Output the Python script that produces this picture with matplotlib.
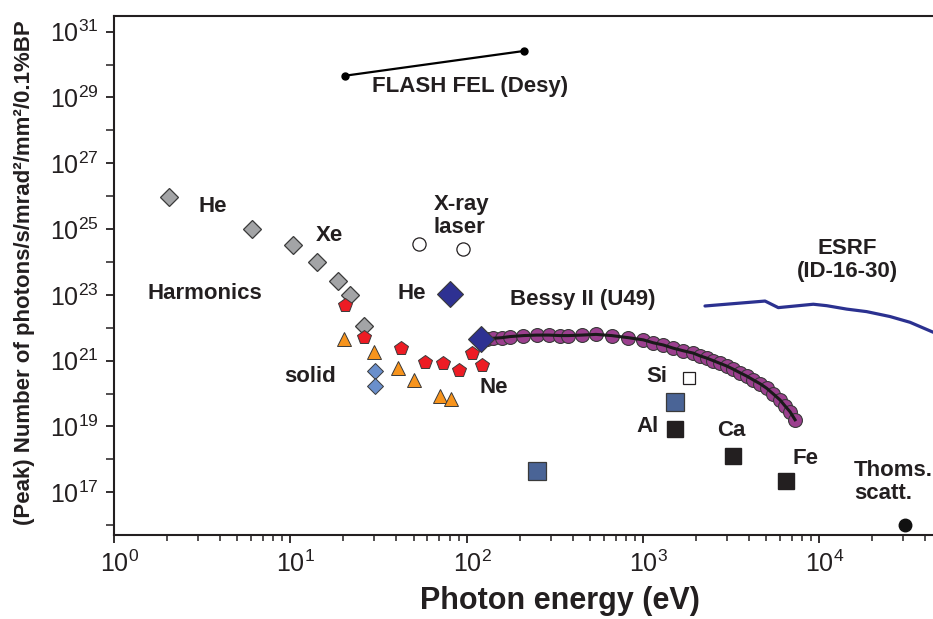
import numpy as np
import matplotlib

matplotlib.use("Agg")
import matplotlib.pyplot as plt
from matplotlib.ticker import FixedLocator, LogLocator, NullFormatter
from matplotlib.transforms import ScaledTranslation

plt.rcParams["font.family"] = ["Liberation Sans", "DejaVu Sans"]
plt.rcParams["mathtext.fontset"] = "custom"
plt.rcParams["mathtext.rm"] = "Liberation Sans"
plt.rcParams["mathtext.it"] = "Liberation Sans:italic"
plt.rcParams["mathtext.bf"] = "Liberation Sans:bold"

# photon energy (eV) / peak brightness (photons/s/mrad^2/mm^2/0.1%BW)
flash_energy = [20.5, 212]
flash_brightness = [4.6e29, 2.6e30]

harmonics_energy = [2.05, 6.1, 10.3, 14.1, 18.6, 21.9, 26.3]
harmonics_brightness = [9.7e25, 1.0e25, 3.4e24, 9.8e23, 2.6e23, 9.7e22, 1.1e22]

neon_energy = [20.4, 26.3, 42.3, 57.8, 73.8, 90.2, 107.8, 122.7]
neon_brightness = [4.9e22, 5.1e21, 2.5e21, 8.9e20, 8.3e20, 5.2e20, 1.75e21, 7.2e20]

solid_energy = [20.2, 29.8, 41.0, 50.1, 70.4, 81.6]
solid_brightness = [4.5e21, 1.8e21, 5.9e20, 2.6e20, 8.5e19, 6.7e19]

solid_diamond_energy = [30.3, 30.3]
solid_diamond_brightness = [4.9e20, 1.74e20]

xray_laser_energy = [53.7, 95.8]
xray_laser_brightness = [3.5e24, 2.5e24]

seeded_energy = [80.5, 120.2]
seeded_brightness = [1.06e23, 4.7e21]

bessy_energy = [120, 130, 142, 158, 176, 210, 250, 293, 339, 378, 450, 542, 665,
                827, 1005, 1146, 1306, 1487, 1695, 1932, 2109, 2301, 2508, 2737,
                2987, 3259, 3556, 3880, 4230, 4616, 5037, 5495, 5996, 6402, 6836, 7296]
bessy_brightness = [4.6e21, 4.7e21, 4.8e21, 5.0e21, 5.4e21, 5.8e21, 6.0e21, 6.0e21,
                    5.8e21, 5.8e21, 6.0e21, 6.3e21, 5.8e21, 5.0e21, 4.3e21, 3.5e21,
                    3.0e21, 2.4e21, 2.0e21, 1.7e21, 1.4e21, 1.2e21, 1.0e21, 8.3e20,
                    6.9e20, 5.5e20, 4.3e20, 3.4e20, 2.6e20, 2.0e20, 1.45e20, 9.7e19,
                    6.4e19, 4.2e19, 2.8e19, 1.6e19]

esrf_energy = [2250, 4930, 5860, 9260, 11030, 14320, 18590, 25200, 32740, 44400]
esrf_brightness = [4.6e22, 6.5e22, 4.1e22, 5.2e22, 4.7e22, 3.7e22, 3.1e22, 2.2e22,
                   1.47e22, 7.3e21]

plasma_energy = [250.7, 1520]
plasma_brightness = [4.5e17, 5.4e19]

kalpha_energy = [1515, 3260, 6480]
kalpha_brightness = [8.2e18, 1.26e18, 2.25e17]

si_energy = [1825]
si_brightness = [3.0e20]

thomson_energy = [30500]
thomson_brightness = [1.0e16]

x_tick_exponents = [0, 1, 2, 3, 4]
y_tick_exponents = [17, 19, 21, 23, 25, 27, 29, 31]

TEXT = "#231f20"
EDGE = "#3a3a3a"

fig = plt.figure(figsize=(9.33, 6.19), dpi=100)
ax = fig.add_axes([114 / 933, 84 / 619, 819 / 933, 519.3 / 619])
ax.set_xscale("log")
ax.set_yscale("log")
ax.set_xlim(1, 10 ** 4.6455)
ax.set_ylim(10 ** 15.702, 10 ** 31.486)

ax.plot(flash_energy, flash_brightness, "-o", color="black", lw=1.6, ms=5)

ax.plot(harmonics_energy, harmonics_brightness, "D", ms=9.5, mfc="#a3a4a6", mec=EDGE, mew=0.9)
ax.plot(neon_energy, neon_brightness, "p", ms=10.5, mfc="#ed1c24", mec=EDGE, mew=0.7)
ax.plot(solid_energy, solid_brightness, "^", ms=10, mfc="#f7941d", mec=EDGE, mew=0.7)
ax.plot(solid_diamond_energy, solid_diamond_brightness, "D", ms=8.5, mfc="#6a8fcb", mec=EDGE, mew=0.7)
ax.plot(xray_laser_energy, xray_laser_brightness, "o", ms=9.5, mfc="white", mec="#231f20", mew=0.9)

ax.plot(bessy_energy, bessy_brightness, "o", ms=10, mfc="#9b3f8e", mec=EDGE, mew=0.8)
ax.plot(bessy_energy, bessy_brightness, "-", color="#1a1a1a", lw=2.2)
ax.plot(seeded_energy, seeded_brightness, "D", ms=13.5, mfc="#2e3192", mec=EDGE, mew=0.8)

ax.plot(esrf_energy, esrf_brightness, "-", color="#2b3190", lw=2.3, solid_capstyle="round")

ax.plot(plasma_energy, plasma_brightness, "s", ms=13, mfc="#4a6496", mec=EDGE, mew=0.9)
ax.plot(kalpha_energy, kalpha_brightness, "s", ms=11.5, mfc="#231f20", mec="#231f20")
ax.plot(si_energy, si_brightness, "s", ms=9, mfc="white", mec="#231f20", mew=0.9)
ax.plot(thomson_energy, thomson_brightness, "o", ms=9, mfc="#111111", mec="#111111")

labels = [
    ("FLASH FEL (Desy)", 29, 2.1e29, "left"),
    ("He", 3.0, 4.7e25, "left"),
    ("Xe", 14, 6.6e24, "left"),
    ("Harmonics", 1.54, 1.1e23, "left"),
    ("X-ray\nlaser", 65.3, 2.5e25, "left"),
    ("He", 40.8, 1.1e23, "left"),
    ("Bessy II (U49)", 176, 7.0e22, "left"),
    ("solid", 9.2, 3.4e20, "left"),
    ("Ne", 117.6, 1.48e20, "left"),
    ("Si", 1041, 3.2e20, "left"),
    ("Al", 914, 9.7e18, "left"),
    ("Ca", 2653, 7.8e18, "left"),
    ("Fe", 7100, 1.03e18, "left"),
    ("Thoms.\nscatt.", 15700, 2.06e17, "left"),
    ("ESRF\n(ID-16-30)", 14380, 1.15e24, "center"),
]
for text, x, y, ha in labels:
    ax.text(x, y, text, ha=ha, va="center", fontsize=16, fontweight="bold",
            color=TEXT, linespacing=1.15, clip_on=False)

ax.spines["right"].set_visible(False)
for side in ("left", "bottom", "top"):
    ax.spines[side].set_linewidth(1.5)
    ax.spines[side].set_color("#231f20")

ax.set_xticks([10.0 ** e for e in x_tick_exponents],
              labels=[f"$10^{{{e}}}$" for e in x_tick_exponents])
ax.xaxis.set_minor_locator(LogLocator(base=10, subs=np.arange(2, 10), numticks=20))
ax.xaxis.set_minor_formatter(NullFormatter())
ax.set_yticks([10.0 ** e for e in y_tick_exponents],
              labels=[f"$10^{{{e}}}$" for e in y_tick_exponents])
ax.yaxis.set_minor_locator(FixedLocator([10.0 ** e for e in range(16, 32, 2)]))
ax.yaxis.set_minor_formatter(NullFormatter())

ax.tick_params(which="major", direction="out", length=6, width=1.3, labelsize=18,
               colors="#231f20", pad=5)
ax.tick_params(which="minor", direction="out", width=1.1, colors="#231f20")
ax.tick_params(axis="x", which="minor", length=4)
ax.tick_params(axis="y", which="minor", length=6)

# nudge the x tick labels so the "10" sits over its tick
shift = ScaledTranslation(4 / 72, 0, fig.dpi_scale_trans)
for label in ax.get_xticklabels():
    label.set_transform(label.get_transform() + shift)

ax.set_xlabel("Photon energy (eV)", fontsize=22, fontweight="bold", color=TEXT,
              va="center")
ax.xaxis.set_label_coords(0.545, -0.127)
ax.set_ylabel("(Peak) Number of photons/s/mrad²/mm²/0.1%BP", fontsize=16,
              fontweight="bold", color=TEXT, va="center")
ax.yaxis.set_label_coords(-0.109, 0.506)

fig.savefig("out.png", dpi=100)
